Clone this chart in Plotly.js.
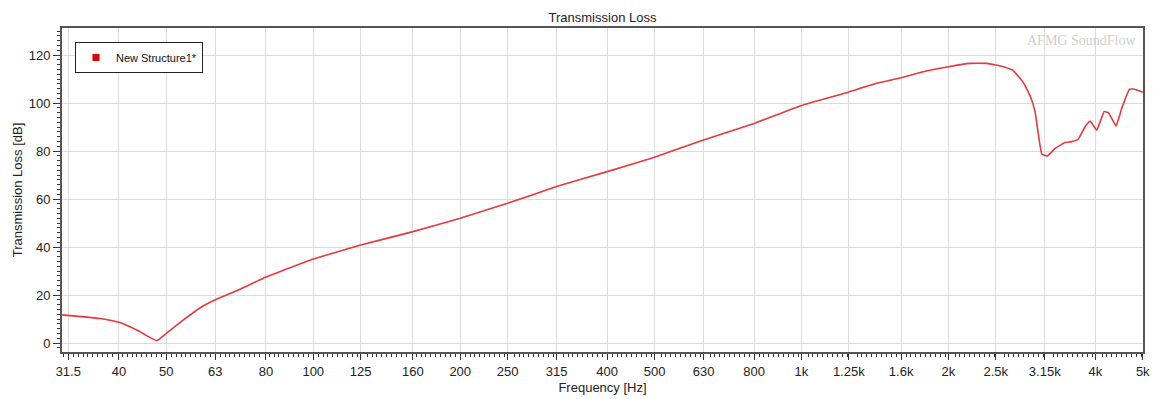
<!DOCTYPE html>
<html>
<head>
<meta charset="utf-8">
<script src="https://cdn.plot.ly/plotly-3.0.1.min.js"></script>
<style>
  html, body { margin: 0; padding: 0; background: #fff; }
  #chart { width: 1153px; height: 399px; }
</style>
</head>
<body>
<div id="chart"></div>
<script>
// Frequency (Hz) and transmission loss (dB)
const freqHz = [30.6, 34.4, 36.6, 40, 43.5, 47.8, 50, 54.2, 58.6, 63, 69.7, 77.2, 80, 88.9,
  100, 125, 160, 200, 250, 315, 400, 500, 630, 800, 1000, 1250, 1415, 1600, 1777, 2000,
  2214, 2395, 2500, 2592, 2716, 2848, 2939, 3009, 3106, 3189, 3307, 3467, 3578,
  3691, 3809, 3900, 4025, 4167, 4252, 4409, 4529, 4695, 4785, 5000];
const tlDb = [11.7, 10.8, 10.2, 8.6, 5.4, 1.0, 4.0, 9.6, 14.6, 18.0, 21.8, 26.0, 27.5, 31.1,
  35.0, 40.8, 46.4, 52.0, 58.2, 65.2, 71.4, 77.4, 84.6, 91.5, 99.0, 104.6, 108.0, 110.5, 113.0, 115.1,
  116.5, 116.5, 115.8, 115.1, 113.5, 108.5, 103.0, 96.4, 78.8, 77.9, 81.1, 83.5, 83.9,
  85.0, 90.1, 92.5, 88.7, 96.4, 96.0, 90.4, 97.8, 105.7, 105.8, 104.5];

const seriesName = "New Structure1*";
const tickVals = [31.5, 40, 50, 63, 80, 100, 125, 160, 200, 250, 315, 400, 500, 630, 800,
  1000, 1250, 1600, 2000, 2500, 3150, 4000, 5000];
const tickText = ["31.5", "40", "50", "63", "80", "100", "125", "160", "200", "250", "315",
  "400", "500", "630", "800", "1k", "1.25k", "1.6k", "2k", "2.5k", "3.15k", "4k", "5k"];

// minor ticks: 10 subdivisions per third-octave band (axis decoration)
const minorVals = [];
const lo = Math.log10(tickVals[0]) - 0.1003;
for (let i = 0; i < 24; i++) {
  const a = lo + i * 0.10034;
  for (let k = 1; k < 10; k++) minorVals.push(Math.pow(10, a + k * 0.010034));
}

const font = 'Liberation Sans, Arial, sans-serif';

const traces = [
  {
    type: 'scatter', mode: 'lines', x: freqHz, y: tlDb,
    line: { color: '#e8383d', width: 1.6, shape: 'spline', smoothing: 0.3 }, showlegend: false, hoverinfo: 'x+y'
  },
  {
    type: 'scatter', mode: 'markers', x: [null], y: [null], name: seriesName,
    marker: { symbol: 'square', size: 7, color: '#e00000' }, showlegend: true
  }
];

const layout = {
  width: 1153, height: 399,
  margin: { l: 62, r: 10, t: 28, b: 47 },
  paper_bgcolor: '#ffffff', plot_bgcolor: '#ffffff',
  font: { family: font, size: 13, color: '#222' },
  title: {
    text: 'Transmission Loss', font: { family: font, size: 13, color: '#222' },
    x: 0.5, xref: 'paper', xanchor: 'center', y: 1 - 17 / 399, yref: 'container', yanchor: 'middle'
  },
  xaxis: {
    type: 'log', range: [1.4854, 3.6995],
    tickmode: 'array', tickvals: tickVals, ticktext: tickText,
    ticks: 'outside', ticklen: 6, tickwidth: 1, tickcolor: '#333',
    showgrid: true, gridcolor: '#dcdcdc', gridwidth: 1,
    showline: true, linecolor: '#555', linewidth: 2, mirror: true,
    zeroline: false,
    tickfont: { family: font, size: 13, color: '#222' },
    minor: { tickmode: 'array', tickvals: minorVals, ticks: 'outside', ticklen: 3, tickcolor: '#333', showgrid: false },
    title: { text: 'Frequency [Hz]', font: { family: font, size: 13, color: '#222' }, standoff: 5 }
  },
  yaxis: {
    range: [-3.75, 131.25],
    tickmode: 'linear', tick0: 0, dtick: 20,
    ticks: 'outside', ticklen: 7, tickwidth: 1, tickcolor: '#333',
    showgrid: true, gridcolor: '#dcdcdc', gridwidth: 1,
    showline: true, linecolor: '#555', linewidth: 2, mirror: true,
    zeroline: false,
    tickfont: { family: font, size: 13, color: '#222' },
    minor: { tick0: 0, dtick: 2, ticks: 'outside', ticklen: 3, tickcolor: '#333', showgrid: false },
    title: { text: 'Transmission Loss [dB]', font: { family: font, size: 13, color: '#222' }, standoff: 3 }
  },
  legend: {
    x: 0.012, y: 0.957, xanchor: 'left', yanchor: 'top',
    bgcolor: '#ffffff', bordercolor: '#222', borderwidth: 1,
    font: { family: font, size: 11, color: '#111' }
  },
  annotations: [
    {
      text: 'AFMG SoundFlow', xref: 'paper', yref: 'paper', x: 0.9954, y: 0.96,
      xanchor: 'right', yanchor: 'middle', showarrow: false,
      font: { family: 'Liberation Serif, DejaVu Serif, serif', size: 14, color: '#cfcfcf' }
    }
  ]
};

Plotly.newPlot('chart', traces, layout, { displayModeBar: false, staticPlot: true });
</script>
</body>
</html>
